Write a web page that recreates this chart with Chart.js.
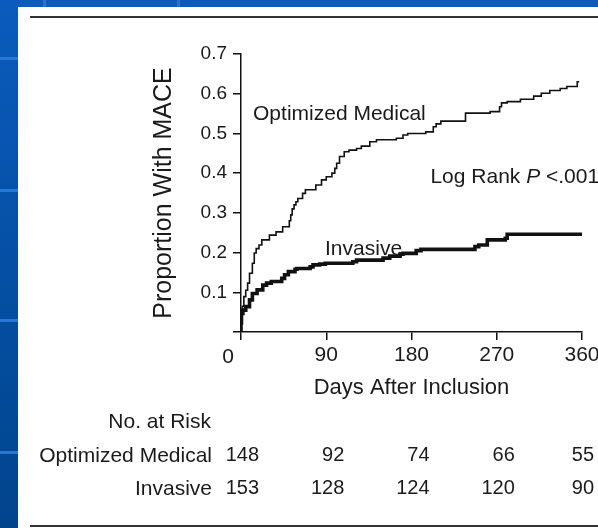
<!DOCTYPE html>
<html><head><meta charset="utf-8">
<script src="https://cdn.jsdelivr.net/npm/chart.js@4/dist/chart.umd.min.js"></script>
<style>
html,body{margin:0;padding:0;width:598px;height:528px;overflow:hidden}
body{background:linear-gradient(#0a5bbd,#00458c);position:relative}
.hl{position:absolute;left:0;width:18px;height:3px;background:#2a78d6}
.vl{position:absolute;top:0;width:3px;height:7px;background:#2a72cc}
#panel{position:absolute;left:18px;top:7px;right:0;bottom:0;background:#fff}
.rule{position:absolute;left:30px;right:0;height:2px;background:#333}
canvas{position:absolute;left:0;top:0}
</style></head>
<body>
<div class="hl" style="top:57px"></div>
<div class="hl" style="top:189px"></div>
<div class="hl" style="top:319px"></div>
<div class="hl" style="top:451px"></div>
<div class="vl" style="left:43px"></div>
<div class="vl" style="left:177px"></div>
<div id="panel"></div>
<div class="rule" style="top:16px"></div>
<div class="rule" style="top:525px"></div>
<canvas id="c" width="598" height="528"></canvas>
<script>
// ---- data ----
const medDays = [0,0.5,1.5,3,5,7,9,12,14,16,19,22,30,37,44,51,52.5,54,56,58,60,65,68,79,85,90,96,99,101,104,109,114,122,127,136,143,164,171,176,195,203,206,211,237,263,273,275,281,295,309,317,326,337,344,355,357];
const medRisk = [0,0.02,0.045,0.065,0.089,0.105,0.123,0.148,0.173,0.199,0.21,0.219,0.232,0.244,0.252,0.265,0.28,0.295,0.31,0.32,0.328,0.336,0.349,0.358,0.37,0.383,0.391,0.4,0.412,0.425,0.442,0.454,0.458,0.462,0.468,0.479,0.484,0.488,0.496,0.5,0.504,0.517,0.524,0.531,0.551,0.555,0.567,0.577,0.58,0.586,0.594,0.601,0.608,0.613,0.618,0.63];
const invDays = [0,0.5,2,5,9,12,17,23,27,32,43,46,50,57,59,73,76,83,89,118,122,150,157,168,171,185,190,247,251,260,279,281,333,360];
const invRisk = [0,0.023,0.047,0.055,0.064,0.081,0.097,0.106,0.118,0.123,0.127,0.135,0.144,0.152,0.158,0.16,0.164,0.169,0.171,0.173,0.177,0.181,0.186,0.191,0.196,0.198,0.205,0.208,0.215,0.219,0.232,0.236,0.246,0.246];
const xTicks = [0,90,180,270,360];
const yTicks = [0,0.1,0.2,0.3,0.4,0.5,0.6,0.7];
const riskLabels = ['Optimized Medical','Invasive'];
const riskMed = [148,92,74,66,55];
const riskInv = [153,128,124,120,90];

const FONT = "'Liberation Sans', Arial, Helvetica, sans-serif";
const INK = '#1a1a1a';

const annot = {
  id:'annot',
  afterDraw(chart){
    const {ctx, scales:{x,y}} = chart;
    ctx.save();
    ctx.fillStyle = INK;
    ctx.textBaseline = 'alphabetic';
    const f = 21, cap = 0.358*f;
    // origin label
    ctx.textAlign = 'center';
    ctx.font = '21px ' + FONT;
    ctx.fillText('0', x.getPixelForValue(0) - 13, 355.5 + 0.358*21);
    ctx.font = f + 'px ' + FONT;
    ctx.textAlign = 'left';
    ctx.fillText('Optimized Medical', x.getPixelForValue(12.7), y.getPixelForValue(0.552) + cap);
    ctx.fillText('Invasive', x.getPixelForValue(88.7), y.getPixelForValue(0.212) + cap);
    // Log Rank P <.001
    let lx = x.getPixelForValue(200), ly = y.getPixelForValue(0.395) + cap;
    const p1 = 'Log Rank ';
    ctx.fillText(p1, lx, ly); lx += ctx.measureText(p1).width;
    ctx.font = 'italic ' + f + 'px ' + FONT;
    ctx.fillText('P', lx, ly); lx += ctx.measureText('P').width;
    ctx.font = f + 'px ' + FONT;
    ctx.fillText(' <.001', lx, ly);
    // at-risk table
    ctx.textAlign = 'right';
    const rows = [420, 454, 487];
    ctx.fillText('No. at Risk', 211, rows[0] + cap);
    ctx.fillText(riskLabels[0], 212, rows[1] + cap);
    ctx.fillText(riskLabels[1], 212, rows[2] + cap);
    ctx.font = '20px ' + FONT;
    xTicks.forEach((t,i)=>{
      const px = Math.min(x.getPixelForValue(t) + 18, 594);
      ctx.fillText(String(riskMed[i]), px, rows[1] + 0.358*20);
      ctx.fillText(String(riskInv[i]), px, rows[2] + 0.358*20);
    });
    ctx.restore();
  }
};

new Chart(document.getElementById('c'), {
  type:'line',
  data:{datasets:[
    {label:'Optimized Medical', data: medDays.map((d,i)=>({x:d,y:medRisk[i]})), borderColor:'#111', borderWidth:1.6, pointRadius:0, stepped:'after', fill:false},
    {label:'Invasive', data: invDays.map((d,i)=>({x:d,y:invRisk[i]})), borderColor:'#111', borderWidth:3.6, pointRadius:0, stepped:'after', fill:false}
  ]},
  options:{
    responsive:false, animation:false, devicePixelRatio:1,
    layout:{padding:{left:0,top:54,right:16,bottom:0}},
    plugins:{legend:{display:false}, tooltip:{enabled:false}},
    scales:{
      x:{type:'linear', min:0, max:360,
        afterBuildTicks:s=>{s.ticks = xTicks.map(v=>({value:v}));},
        ticks:{callback:v=> v===0 ? '' : String(v), font:{size:21,family:FONT}, color:INK, padding:3, maxRotation:0, autoSkip:false},
        grid:{display:true, drawOnChartArea:false, tickLength:8, color:'#111', lineWidth:1.5},
        border:{display:true, color:'#111', width:1.5},
        title:{display:true, text:'Days After Inclusion', color:INK, font:{size:22,family:FONT}, padding:{top:0,bottom:127}},
        afterFit:s=>{s.height=196; s.paddingLeft=0; s.paddingRight=0; s.paddingTop=0; s.paddingBottom=0;}
      },
      y:{type:'linear', min:0, max:0.7,
        afterBuildTicks:s=>{s.ticks = yTicks.map(v=>({value:v}));},
        ticks:{callback:v=> v===0 ? '' : v.toFixed(1), font:{size:19,family:FONT}, color:INK, padding:6, autoSkip:false},
        grid:{display:true, drawOnChartArea:false, tickLength:8, color:'#111', lineWidth:1.5},
        border:{display:true, color:'#111', width:1.5},
        title:{display:true, text:'Proportion With MACE', color:INK, font:{size:25,family:FONT}, padding:{top:149,bottom:0}},
        afterFit:s=>{s.width=241; s.paddingLeft=0; s.paddingRight=0; s.paddingTop=0; s.paddingBottom=0;}
      }
    }
  },
  plugins:[annot]
});
</script>
</body></html>
